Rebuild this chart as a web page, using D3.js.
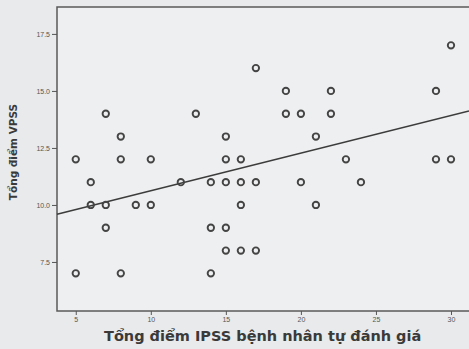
<!DOCTYPE html>
<html lang="vi">
<head>
    <meta charset="UTF-8">
    <title>IPSS vs VPSS</title>
    <style>
        html, body {
            margin: 0;
            padding: 0;
            background-color: #e8eaeb;
            overflow: hidden;
        }
        svg { display: block; }
        .tick text { font-family: 'Liberation Sans', sans-serif; font-size: 7px; fill: #555; }
        .tick line { stroke: #555; }
        .label { font-family: 'DejaVu Sans', sans-serif; font-weight: bold; fill: #3a3a3a; }
    </style>
</head>
<body>
    <div id="chart"></div>
    <script src="https://d3js.org/d3.v7.min.js"></script>
    <script>
        // DATA
        const ipss = [5, 5, 6, 6, 7, 7, 7, 8, 8, 8, 9, 10, 10, 12, 13, 14, 14, 14, 15, 15, 15, 15, 15,
                      16, 16, 16, 16, 17, 17, 17, 19, 19, 20, 20, 21, 21, 22, 22, 23, 24, 29, 29, 30, 30];
        const vpss = [12, 7, 11, 10, 10, 9, 14, 13, 12, 7, 10, 12, 10, 11, 14, 11, 9, 7, 13, 12, 11, 9, 8,
                      12, 11, 10, 8, 16, 11, 8, 15, 14, 14, 11, 13, 10, 15, 14, 12, 11, 15, 12, 17, 12];
        const fitLine = [8.97, 0.165]; // intercept, slope
        const xTicks = [5, 10, 15, 20, 25, 30];
        const yTicks = [7.5, 10.0, 12.5, 15.0, 17.5];
        const xTitle = "Tổng điểm IPSS bệnh nhân tự đánh giá";
        const yTitle = "Tổng điểm VPSS";

        const W = 469, H = 349;
        const svg = d3.select("#chart").append("svg")
            .attr("width", W).attr("height", H);

        const x = d3.scaleLinear().domain([3.75, 31.2]).range([57, 469]);
        const y = d3.scaleLinear().domain([5.35, 18.68]).range([311, 7]);

        // plot area
        svg.append("rect")
            .attr("x", x.range()[0]).attr("y", y.range()[1])
            .attr("width", x.range()[1] - x.range()[0] + 2)
            .attr("height", y.range()[0] - y.range()[1])
            .attr("fill", "#eeeff0")
            .attr("stroke", "#5a5a5a")
            .attr("stroke-width", 1.5);

        // axes
        const xAxis = svg.append("g")
            .attr("transform", `translate(0, ${y.range()[0]})`)
            .call(d3.axisBottom(x).tickValues(xTicks).tickSize(4).tickPadding(2));
        const yAxis = svg.append("g")
            .attr("transform", `translate(${x.range()[0]}, 0)`)
            .call(d3.axisLeft(y).tickValues(yTicks).tickFormat(d3.format(".1f")).tickSize(5).tickPadding(2));
        [xAxis, yAxis].forEach(g => g.select(".domain").remove());

        // fit line
        const [a, b] = fitLine;
        svg.append("line")
            .attr("x1", x(x.domain()[0])).attr("y1", y(a + b * x.domain()[0]))
            .attr("x2", x(x.domain()[1])).attr("y2", y(a + b * x.domain()[1]))
            .attr("stroke", "#3c3c3c")
            .attr("stroke-width", 1.6);

        // points
        svg.selectAll("circle.pt")
            .data(ipss).enter()
            .append("circle")
            .attr("class", "pt")
            .attr("cx", (d) => x(d))
            .attr("cy", (d, i) => y(vpss[i]))
            .attr("r", 3.2)
            .attr("fill", "none")
            .attr("stroke", "#444")
            .attr("stroke-width", 1.9);

        // titles
        svg.append("text")
            .attr("class", "label")
            .attr("x", 104)
            .attr("y", 341)
            .attr("font-size", 14.5)
            .text(xTitle);

        svg.append("text")
            .attr("class", "label")
            .attr("transform", `translate(17, 152) rotate(-90)`)
            .attr("text-anchor", "middle")
            .attr("font-size", 10.5)
            .text(yTitle);
    </script>
</body>
</html>
